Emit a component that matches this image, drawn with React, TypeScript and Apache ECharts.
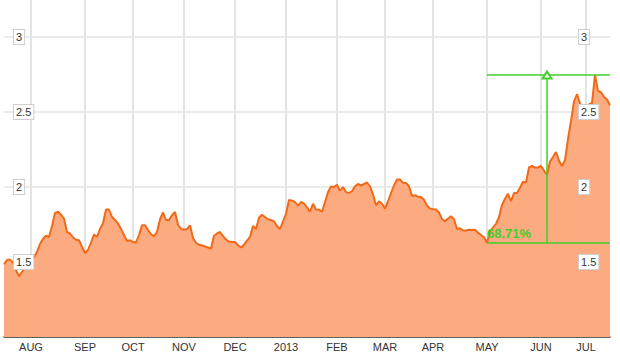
import React, { useEffect, useRef } from "react";
import * as echarts from "echarts";

// Price series (one reading per ~1.5 trading days, Jul 2012 – Jul 2013)
const values: number[] = [
  1.485, 1.513, 1.516, 1.497, 1.445, 1.405, 1.435, 1.46, 1.48, 1.51,
  1.53, 1.568, 1.62, 1.655, 1.675, 1.667, 1.74, 1.827, 1.835, 1.815,
  1.79, 1.7, 1.69, 1.665, 1.648, 1.645, 1.6, 1.56, 1.58, 1.63,
  1.683, 1.668, 1.72, 1.758, 1.85, 1.85, 1.8, 1.78, 1.757, 1.72,
  1.68, 1.64, 1.645, 1.633, 1.63, 1.68, 1.745, 1.745, 1.713, 1.685,
  1.672, 1.7, 1.785, 1.83, 1.78, 1.78, 1.812, 1.833, 1.75, 1.72,
  1.715, 1.72, 1.745, 1.66, 1.628, 1.615, 1.61, 1.603, 1.597, 1.59,
  1.675, 1.69, 1.7, 1.672, 1.65, 1.636, 1.633, 1.633, 1.612, 1.597,
  1.615, 1.643, 1.667, 1.74, 1.72, 1.795, 1.815, 1.8, 1.785, 1.78,
  1.77, 1.74, 1.72, 1.77, 1.82, 1.914, 1.909, 1.9, 1.875, 1.9,
  1.89, 1.864, 1.835, 1.888, 1.85, 1.848, 1.835, 1.9, 1.965, 2.004,
  2.0, 2.015, 1.975, 2.0, 1.966, 1.96, 1.972, 2.005, 2.02, 2.01,
  2.02, 2.03, 2.005, 1.95, 1.878, 1.905, 1.888, 1.856, 1.905, 1.96,
  2.01, 2.05, 2.05, 2.028, 2.027, 2.005, 1.94, 1.945, 1.935, 1.933,
  1.915, 1.875, 1.856, 1.852, 1.85, 1.83, 1.785, 1.772, 1.79, 1.805,
  1.785, 1.72, 1.725, 1.71, 1.71, 1.715, 1.713, 1.715, 1.696, 1.68,
  1.665, 1.628, 1.705, 1.73, 1.755, 1.8, 1.88, 1.922, 1.955, 1.905,
  1.96, 1.96, 1.995, 2.035, 2.03, 2.13, 2.14, 2.13, 2.13, 2.14,
  2.11, 2.08, 2.17, 2.2, 2.233, 2.175, 2.14, 2.178, 2.32, 2.44,
  2.57, 2.62, 2.555, 2.53, 2.525, 2.55, 2.56, 2.747, 2.64, 2.632,
  2.6, 2.583, 2.545,
];

const categories: string[] = values.map((_, i) => `d${i}`);

// First reading of each month and its label
const monthStarts: number[] = [9, 27, 43, 60, 77, 94, 111, 127, 143, 161, 179, 194];
const monthLabels: string[] = ["AUG", "SEP", "OCT", "NOV", "DEC", "2013", "FEB", "MAR", "APR", "MAY", "JUN", "JUL"];

// Change annotation (low → high)
const lowIndex = 161;
const highIndex = 197;
const arrowIndex = 181;
const endIndex = values.length - 1;
const changeLabel = "68.71%";

const yMin = 1;
const yMax = 3.5;
const yStep = 0.5;

const GREEN = "#3fcf2a";
const FONT = 'Arial, "Liberation Sans", sans-serif';
const HIDDEN_TOP = 38;

export default function App() {
  const ref = useRef<HTMLDivElement>(null);

  useEffect(() => {
    if (!ref.current) return;
    const chart = echarts.init(ref.current, undefined, { renderer: "svg" });
    const lowVal = values[lowIndex];
    const highVal = values[highIndex];
    const isMonth = (idx: number) => monthStarts.indexOf(idx) >= 0;

    const labelBox = {
      inside: true,
      color: "#333",
      fontSize: 11,
      fontFamily: FONT,
      backgroundColor: "#fff",
      borderColor: "#cfcfcf",
      borderWidth: 1,
      padding: [2, 2, 1, 2],
      showMinLabel: false,
      showMaxLabel: false,
      formatter: (v: number) => String(v),
    };

    chart.setOption({
      animation: false,
      grid: { left: 4, right: 10, top: 0, bottom: 22, containLabel: false },
      xAxis: {
        type: "category",
        data: categories,
        boundaryGap: false,
        axisTick: { show: false },
        axisLine: { lineStyle: { color: "#333", width: 1.5 } },
        axisLabel: {
          interval: (idx: number) => isMonth(idx),
          formatter: (_v: string, idx: number) => monthLabels[monthStarts.indexOf(idx)] ?? "",
          color: "#333",
          fontSize: 11,
          fontFamily: FONT,
          margin: 4,
        },
        splitLine: {
          show: true,
          interval: (idx: number) => isMonth(idx),
          lineStyle: { color: "#e4e4e4", width: 2 },
        },
      },
      yAxis: [
        {
          type: "value",
          min: yMin,
          max: yMax,
          interval: yStep,
          position: "left",
          z: 0,
          axisLine: { show: false },
          axisTick: { show: false },
          axisLabel: { show: false },
          splitLine: { show: true, lineStyle: { color: "#e4e4e4", width: 1.5 } },
        },
        {
          type: "value",
          min: yMin,
          max: yMax,
          interval: yStep,
          position: "left",
          z: 10,
          axisLine: { show: false },
          axisTick: { show: false },
          splitLine: { show: false },
          axisLabel: { ...labelBox, margin: 10 },
        },
        {
          type: "value",
          min: yMin,
          max: yMax,
          interval: yStep,
          position: "right",
          z: 10,
          axisLine: { show: false },
          axisTick: { show: false },
          splitLine: { show: false },
          axisLabel: { ...labelBox, margin: 31, align: "left" },
        },
      ],
      series: [
        {
          type: "line",
          data: values,
          yAxisIndex: 0,
          symbol: "none",
          showSymbol: false,
          lineStyle: { color: "#f26a17", width: 2 },
          areaStyle: { color: "#fcab80", opacity: 1, origin: "start" },
          markLine: {
            silent: true,
            symbol: ["none", "none"],
            lineStyle: { color: GREEN, width: 1.5, type: "solid" },
            label: { show: false },
            data: [
              [
                {
                  coord: [categories[lowIndex], lowVal],
                  label: {
                    show: true,
                    position: "insideStartTop",
                    formatter: changeLabel,
                    color: GREEN,
                    fontSize: 13,
                    fontWeight: "bold",
                    fontFamily: FONT,
                    distance: [0, 3],
                  },
                },
                { coord: [categories[endIndex], lowVal] },
              ],
              [
                { coord: [categories[lowIndex], highVal] },
                { coord: [categories[endIndex], highVal] },
              ],
              [
                { coord: [categories[arrowIndex], lowVal], symbol: "none" },
                {
                  coord: [categories[arrowIndex], highVal],
                  symbol: "emptyTriangle",
                  symbolSize: [9, 7],
                },
              ],
            ],
          },
        },
      ],
    });

    return () => chart.dispose();
  }, []);

  return (
    <div style={{ position: "absolute", left: 0, top: 0, width: 620, height: 359, overflow: "hidden", background: "#fff" }}>
      <div
        ref={ref}
        style={{ position: "absolute", left: 0, top: -HIDDEN_TOP, width: 620, height: 359 + HIDDEN_TOP }}
      />
    </div>
  );
}
